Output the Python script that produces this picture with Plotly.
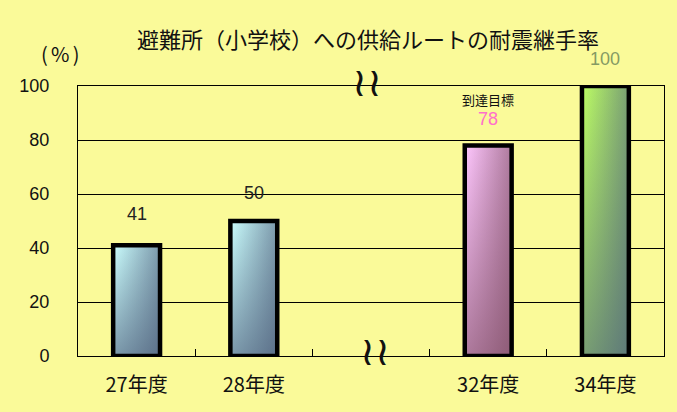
import plotly.graph_objects as go

# ---- data ----
categories = ["27年度", "28年度", "", "32年度", "34年度"]
values = [41, 50, None, 78, 100]
value_labels = ["41", "50", "", "78", "100"]
y_ticks = [0, 20, 40, 60, 80, 100]
title_text = "避難所（小学校）への供給ルートの耐震継手率"
unit_text = "(\u2006%\u2006)"
target_text = "到達目標"

# ---- styles ----
BG = "#FAFA99"
JP = "Noto Sans CJK JP"
NUM = "Liberation Sans"
BAR_W = 0.4
light_cols = [(204, 255, 255), (204, 255, 255), None, (255, 200, 255), (190, 255, 100)]
dark_cols = [(70, 85, 115), (70, 85, 115), None, (120, 70, 92), (75, 95, 125)]
label_cols = ["#222222", "#222222", None, "#FF6FCB", "#859A63"]
label_shift = [31, 28, None, 26, 27]

def rgb(c, a=1.0):
    return f"rgba({c[0]},{c[1]},{c[2]},{a})"

def mix(a, b, t):
    return tuple(int(round(a[k] + (b[k] - a[k]) * t)) for k in range(3))

fig = go.Figure()
idx = list(range(len(categories)))

for i, v in zip(idx, values):
    if v is None:
        continue
    xs = [i - BAR_W / 2, i + BAR_W / 2, i + BAR_W / 2, i - BAR_W / 2, i - BAR_W / 2]
    ys = [0, 0, v, v, 0]
    lo, hi = light_cols[i], dark_cols[i]
    # horizontal component of the diagonal gradient
    fig.add_trace(go.Scatter(
        x=xs, y=ys, mode="lines", fill="toself",
        line=dict(width=0, color="rgba(0,0,0,0)"),
        fillgradient=dict(type="horizontal",
                          colorscale=[[0, rgb(lo)], [1, rgb(mix(lo, hi, 0.6))]]),
        hoverinfo="skip", showlegend=False))
    # vertical component (darkening toward bottom) + outline
    fig.add_trace(go.Scatter(
        x=xs, y=ys, mode="lines", fill="toself",
        line=dict(width=4.5, color="black"),
        fillgradient=dict(type="vertical",
                          colorscale=[[0, rgb(hi, 0.6)], [1, rgb(hi, 0.0)]]),
        hoverinfo="skip", showlegend=False))

annotations = []
for i, v in zip(idx, values):
    if v is None:
        continue
    annotations.append(dict(x=i, y=v, xref="x", yref="y", text=value_labels[i],
                            showarrow=False, yshift=label_shift[i],
                            font=dict(family=NUM, size=18, color=label_cols[i])))
annotations.append(dict(x=3, y=values[3], xref="x", yref="y", text=target_text,
                        showarrow=False, yshift=46,
                        font=dict(family=JP, size=13, color="#111111")))
annotations.append(dict(x=(60 - 78) / 586, y=(356 - 53) / 270, xref="paper", yref="paper",
                        xanchor="center", yanchor="middle", text=unit_text,
                        showarrow=False, font=dict(family=JP, size=20, color="#111111")))
for yy, dx, dy in ((100, -0.03, 4), (0, 0.03, 5)):
    annotations.append(dict(x=2 + dx, y=yy, xref="x", yref="y", text="≀≀",
                            showarrow=False, yshift=dy,
                            font=dict(family="DejaVu Serif", size=40, color="#111111")))

fig.update_layout(
    width=677, height=412,
    paper_bgcolor=BG, plot_bgcolor=BG,
    margin=dict(l=78, r=13, t=86, b=56),
    title=dict(text=title_text, x=368 / 677, xanchor="center", xref="container",
               y=1 - 40 / 412, yref="container", yanchor="middle",
               font=dict(family=JP, size=22, color="#111111")),
    xaxis=dict(range=[-0.5, 4.5], tickmode="array",
               tickvals=[i for i in idx if categories[i]],
               ticktext=[c for c in categories if c],
               ticks="", showgrid=False, zeroline=False,
               showline=True, mirror=True, linecolor="black", linewidth=1,
               tickfont=dict(family=JP, size=20, color="#111111"),
               ticklabelstandoff=11,
               minor=dict(tickvals=[i + 0.5 for i in idx[:-1]], ticks="inside",
                          ticklen=7, tickcolor="black", tickwidth=1, showgrid=False)),
    yaxis=dict(range=[0, 100], tickmode="array", tickvals=y_ticks,
               showgrid=True, gridcolor="black", gridwidth=1, zeroline=False,
               showline=True, mirror=True, linecolor="black", linewidth=1,
               ticks="", ticklabelstandoff=24,
               tickfont=dict(family=NUM, size=18, color="#111111")),
    annotations=annotations,
    showlegend=False,
)

fig.write_html("out.html", config={"displayModeBar": False},
               post_script="document.body.style.margin='0';document.body.style.padding='0';")
